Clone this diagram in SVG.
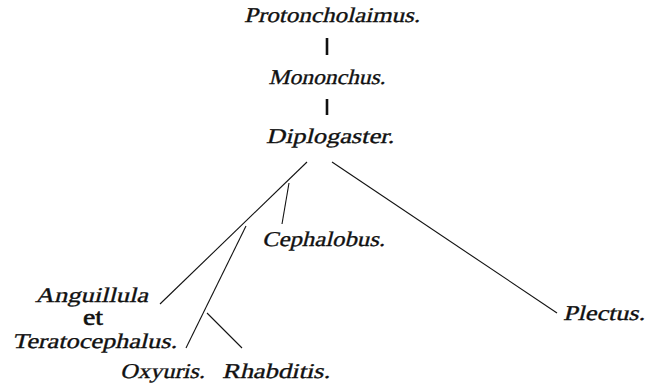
<svg xmlns="http://www.w3.org/2000/svg" width="648" height="388" viewBox="0 0 648 388">
<style>
text{font-family:"Liberation Serif","Times New Roman",serif;font-size:21px;fill:#111;stroke:#111;stroke-width:0.35}
.c{text-anchor:middle}
.et{font-size:23px;stroke-width:0.6}
.e line{stroke:#111;stroke-width:1.1;fill:none}
.e .b{stroke-width:2.6}
</style>
<rect width="648" height="388" fill="#fff"/>
<g class="e" id="connectors">
<line class="b" x1="327" y1="38" x2="327" y2="55"/>
<line class="b" x1="327" y1="99" x2="327" y2="115"/>
<line x1="307" y1="162" x2="160" y2="304"/>
<line x1="289" y1="183" x2="282" y2="224"/>
<line x1="246" y1="226" x2="186" y2="348"/>
<line x1="207" y1="313" x2="242" y2="348"/>
<line x1="332" y1="162" x2="557" y2="313"/>
</g>
<g id="protoncholaimus"><text class="c" transform="translate(332,22) skewX(-14)" textLength="176" lengthAdjust="spacingAndGlyphs">Protoncholaimus.</text></g>
<g id="mononchus"><text class="c" transform="translate(327,84) skewX(-14)" textLength="117" lengthAdjust="spacingAndGlyphs">Mononchus.</text></g>
<g id="diplogaster"><text class="c" transform="translate(330,143) skewX(-14)" textLength="128" lengthAdjust="spacingAndGlyphs">Diplogaster.</text></g>
<g id="cephalobus"><text transform="translate(262,246) skewX(-14)" textLength="123" lengthAdjust="spacingAndGlyphs">Cephalobus.</text></g>
<g id="plectus"><text transform="translate(563,320) skewX(-14)" textLength="82" lengthAdjust="spacingAndGlyphs">Plectus.</text></g>
<g id="anguillula"><text transform="translate(35,302) skewX(-14)" textLength="113" lengthAdjust="spacingAndGlyphs">Anguillula</text><text class="c et" x="93" y="325" textLength="20" lengthAdjust="spacingAndGlyphs">et</text><text transform="translate(12,348) skewX(-14)" textLength="165" lengthAdjust="spacingAndGlyphs">Teratocephalus.</text></g>
<g id="oxyuris"><text transform="translate(120,378) skewX(-14)" textLength="85" lengthAdjust="spacingAndGlyphs">Oxyuris.</text></g>
<g id="rhabditis"><text transform="translate(222,378) skewX(-14)" textLength="108" lengthAdjust="spacingAndGlyphs">Rhabditis.</text></g>
</svg>
